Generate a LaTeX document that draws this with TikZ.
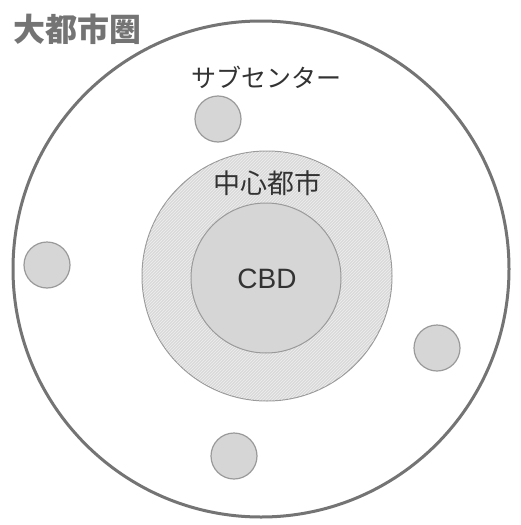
\documentclass[tikz,border=0pt]{standalone}
\usepackage{fontspec}
\setmainfont{Liberation Sans}
\newfontfamily\cjk{Noto Sans CJK JP}
\usetikzlibrary{patterns}
\definecolor{ringgray}{HTML}{747474}
\definecolor{fillgray}{HTML}{D6D6D6}
\definecolor{edgegray}{HTML}{9A9A9A}
\tikzset{
  subc/.style={circle, draw=edgegray, line width=1.2pt, fill=fillgray, minimum size=46pt, inner sep=0pt},
  lbl/.style={text=black!80, inner sep=0pt},
}
\begin{document}
\begin{tikzpicture}[x=1pt,y=-1pt]
\useasboundingbox (0,0) rectangle (521,525);
\fill[white] (0,0) rectangle (521,525);
% metropolitan area
\node[circle, draw=ringgray, line width=3pt, minimum size=496pt, inner sep=0pt] (metro) at (261,269) {};
% central city
\node[circle, draw=edgegray, line width=1pt, fill=fillgray!90, minimum size=250pt, inner sep=0pt] (city) at (267,276) {};
\fill[pattern=north east lines, pattern color=white!60!fillgray] (267,276) circle (124.5);
% CBD
\node[circle, draw=edgegray, line width=1pt, fill=fillgray, minimum size=150pt, inner sep=0pt] (cbd) at (266,278) {};
\node[lbl, font=\fontsize{28}{28}\selectfont] (cbdt) at (267,279) {CBD};
\node[lbl, font=\cjk\fontsize{27}{27}\selectfont] (cityt) at (267,183) {中心都市};
% subcenters
\node[subc] (s1) at (218,119) {};
\node[subc] (s2) at (47,265) {};
\node[subc] (s3) at (437,348) {};
\node[subc] (s4) at (234,456) {};
\node[lbl, font=\cjk\fontsize{25}{25}\selectfont] (subt) at (266,77) {サブセンター};
\node[lbl, text=ringgray, font=\cjk\bfseries\fontsize{32}{32}\selectfont] (title) at (77,29) {大都市圏};
\end{tikzpicture}
\end{document}
